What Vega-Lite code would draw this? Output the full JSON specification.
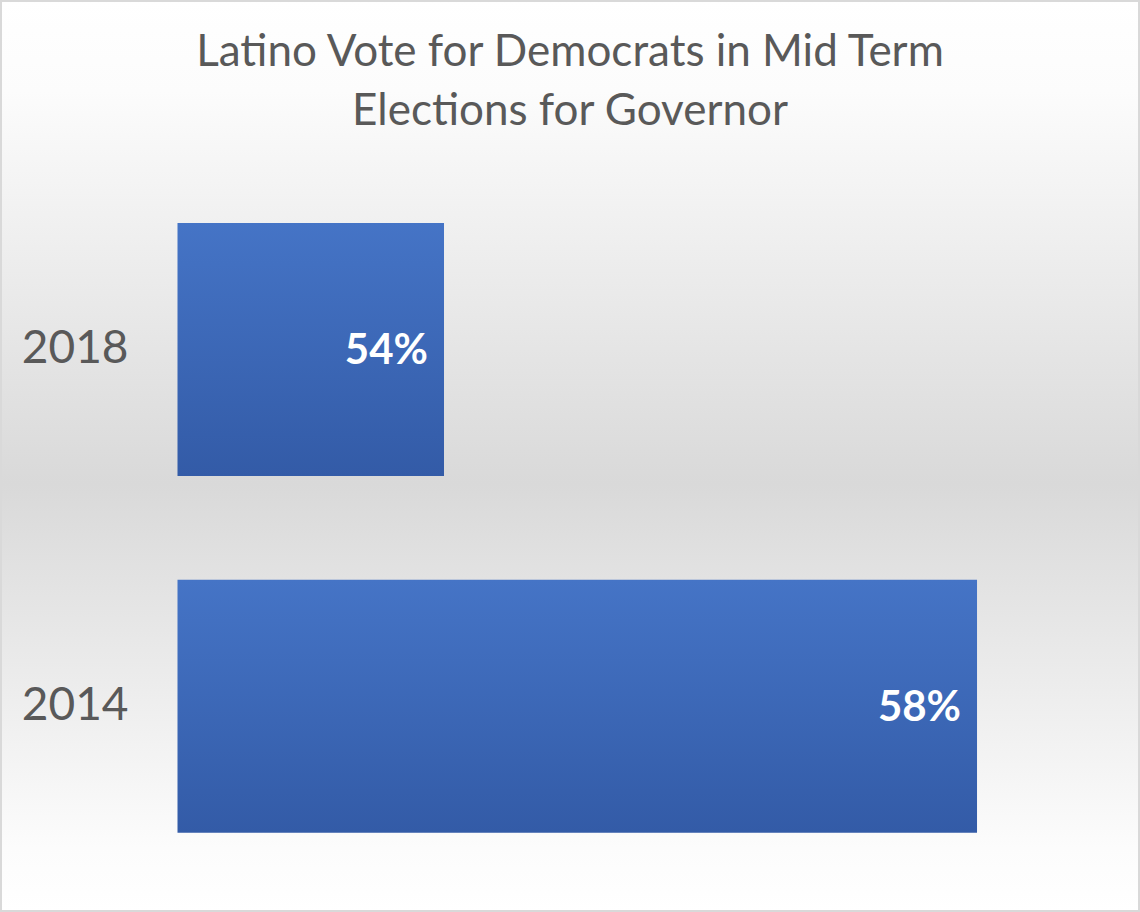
{
  "$schema": "https://vega.github.io/schema/vega-lite/v6.json",
  "width": 1140,
  "height": 912,
  "autosize": "none",
  "padding": 0,
  "background": "#ffffff",
  "title": {
    "text": ["Latino Vote for Democrats in Mid Term", "Elections for Governor"],
    "anchor": "middle",
    "frame": "group",
    "orient": "top",
    "offset": -169,
    "baseline": "alphabetic",
    "lineHeight": 59,
    "font": "Lato",
    "fontSize": 44,
    "fontWeight": "normal",
    "color": "#595959"
  },
  "data": {
    "values": [
      {"year": "2018", "pct": 54, "label": "54%"},
      {"year": "2014", "pct": 58, "label": "58%"}
    ]
  },
  "encoding": {
    "y": {
      "field": "year",
      "type": "nominal",
      "sort": ["2018", "2014"],
      "scale": {"paddingInner": 0.2913, "paddingOuter": 0.423, "align": 0.738},
      "axis": {
        "title": null,
        "orient": "left",
        "domain": false,
        "ticks": false,
        "tickSize": 0,
        "labelPadding": -128,
        "labelAlign": "right",
        "labelBaseline": "middle",
        "labelFont": "Lato",
        "labelFontSize": 46,
        "labelColor": "#595959",
        "grid": false
      }
    }
  },
  "layer": [
    {
      "mark": {
        "type": "bar",
        "color": {
          "gradient": "linear",
          "x1": 0, "y1": 0, "x2": 0, "y2": 1,
          "stops": [
            {"offset": 0, "color": "#4574c6"},
            {"offset": 1, "color": "#335ba7"}
          ]
        }
      },
      "encoding": {
        "x": {
          "field": "pct",
          "type": "quantitative",
          "scale": {"domain": [50.668, 59.223], "zero": false, "nice": false},
          "axis": null
        },
        "x2": {"datum": 52}
      }
    },
    {
      "mark": {
        "type": "text",
        "align": "right",
        "baseline": "middle",
        "dx": -16,
        "dy": 2,
        "font": "Lato",
        "fontSize": 42,
        "fontWeight": "bold",
        "color": "#ffffff"
      },
      "encoding": {
        "x": {"field": "pct", "type": "quantitative"},
        "text": {"field": "label"}
      }
    }
  ],
  "config": {
    "view": {
      "fill": {
        "gradient": "linear",
        "x1": 0, "y1": 0, "x2": 0, "y2": 1,
        "stops": [
          {"offset": 0, "color": "#ffffff"},
          {"offset": 0.1, "color": "#fcfcfc"},
          {"offset": 0.53, "color": "#d9d9d9"},
          {"offset": 0.93, "color": "#fcfcfc"},
          {"offset": 1, "color": "#ffffff"}
        ]
      },
      "stroke": "#d9d9d9",
      "strokeWidth": 4
    }
  }
}
